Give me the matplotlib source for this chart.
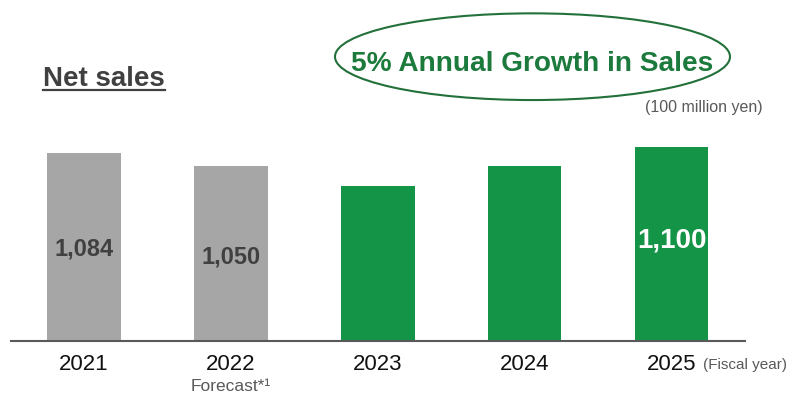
import matplotlib
matplotlib.use("Agg")
import matplotlib.pyplot as plt
from matplotlib.patches import Ellipse
from matplotlib.lines import Line2D

plt.rcParams['font.family'] = ['Liberation Sans', 'DejaVu Sans']

# Net sales by fiscal year (100 million yen)
years = ['2021', '2022', '2023', '2024', '2025']
sales = [1084, 1050, 1000, 1050, 1100]
bar_colors = ['#a6a6a6', '#a6a6a6', '#139447', '#139447', '#139447']
# only some bars carry a printed value
labelled = [0, 1, 4]
label_colors = ['#404040', '#404040', '#ffffff']
label_sizes = [17, 17, 20]
label_y = [838, 818, 861]

W, H = 794, 394
fig = plt.figure(figsize=(W / 100, H / 100), dpi=100)


def fx(px):
    return px / W


def fy(py):
    return 1 - py / H


ax = fig.add_axes([fx(10.7), fy(340.7), fx(745 - 10.7), (340.7 - 130) / H])
x = range(len(years))
ax.bar(x, sales, width=0.5, color=bar_colors, zorder=2)
ax.set_xlim(-0.5, len(years) - 0.5)
ax.set_ylim(603, 1143)

for spine in ['top', 'right', 'left']:
    ax.spines[spine].set_visible(False)
ax.spines['bottom'].set_color('#595959')
ax.spines['bottom'].set_linewidth(1.5)
ax.set_yticks([])
ax.set_xticks(list(x))
ax.set_xticklabels(years, fontsize=16, color='#111111')
ax.tick_params(axis='x', length=0, pad=9.5)

for k, i in enumerate(labelled):
    ax.text(i, label_y[k], f'{sales[i]:,}', ha='center', va='center',
            fontsize=label_sizes[k], fontweight='bold', color=label_colors[k])

# titles and notes
fig.text(fx(43.3), fy(85.7), 'Net sales', fontsize=20, fontweight='bold',
         color='#404040', va='baseline', ha='left')
fig.add_artist(Line2D([fx(43.3), fx(165)], [fy(90), fy(90)],
                      color='#404040', linewidth=1.6))

fig.add_artist(Ellipse((fx(532.5), fy(56.7)), fx(395), 86.7 / H,
                       transform=fig.transFigure, fill=False,
                       edgecolor='#22703a', linewidth=1.5))
fig.text(fx(532.5), fy(70.7), '5% Annual Growth in Sales', fontsize=20.2,
         fontweight='bold', color='#1b7a3c', ha='center', va='baseline')

fig.text(fx(763), fy(112), '(100 million yen)', fontsize=11.5, color='#595959',
         ha='right', va='baseline')
fig.text(fx(703), fy(369), '(Fiscal year)', fontsize=11, color='#595959',
         ha='left', va='baseline')
fig.text(fx(231), fy(391), 'Forecast*¹', fontsize=12.5, color='#595959',
         ha='center', va='baseline')

fig.savefig('out.png', dpi=100)
